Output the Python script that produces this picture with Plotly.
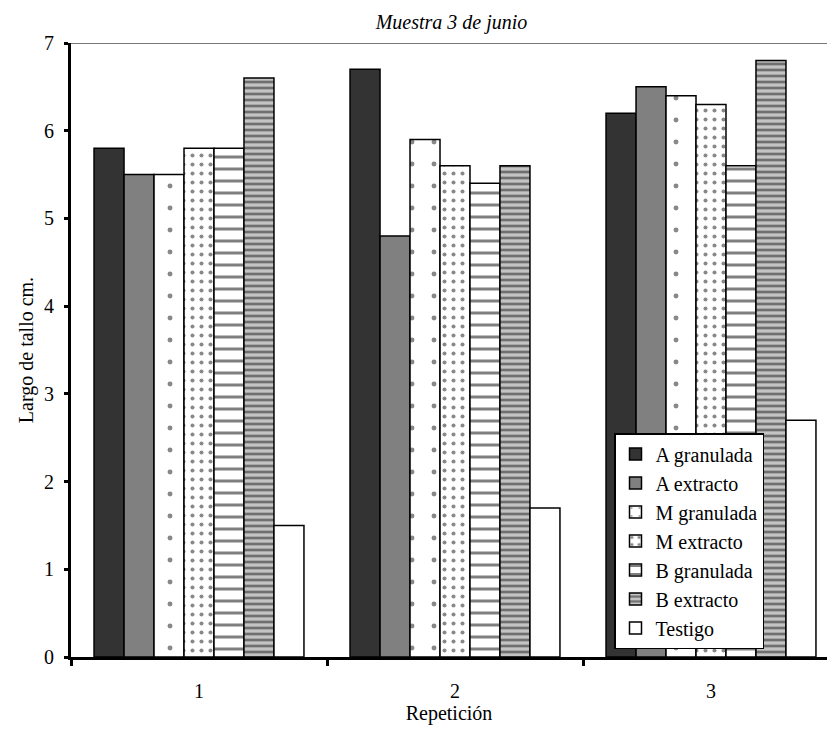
import plotly.graph_objects as go

# Stem length per treatment for each repetition
repeticiones = ["1", "2", "3"]
tratamientos = ["A granulada", "A extracto", "M granulada", "M extracto",
                "B granulada", "B extracto", "Testigo"]
a_granulada = [5.8, 6.7, 6.2]
a_extracto = [5.5, 4.8, 6.5]
m_granulada = [5.5, 5.9, 6.4]
m_extracto = [5.8, 5.6, 6.3]
b_granulada = [5.8, 5.4, 5.6]
b_extracto = [6.6, 5.6, 6.8]
testigo = [1.5, 1.7, 2.7]

valores = [a_granulada, a_extracto, m_granulada, m_extracto,
           b_granulada, b_extracto, testigo]

estilos = [
    dict(color="#333333"),
    dict(color="#808080"),
    dict(color="white", pattern=dict(shape=".", fgcolor="#111111", bgcolor="white",
                                     size=22, solidity=0.04)),
    dict(color="white", pattern=dict(shape=".", fgcolor="#111111", bgcolor="white",
                                     size=9, solidity=0.16)),
    dict(color="white", pattern=dict(shape="-", fgcolor="#000000", bgcolor="white",
                                     size=12, solidity=0.25)),
    dict(color="#888888", pattern=dict(shape="-", fgcolor="#1a1a1a", bgcolor="#c4c4c4",
                                       size=6, solidity=0.45)),
    dict(color="white"),
]

serif = "Liberation Serif"

fig = go.Figure()
for nombre, vals, est in zip(tratamientos, valores, estilos):
    marker = dict(est)
    marker["line"] = dict(color="black", width=1.5)
    fig.add_trace(go.Bar(name=nombre, x=repeticiones, y=vals, marker=marker))

fig.update_layout(
    width=827, height=731,
    margin=dict(l=71, r=0, t=43, b=74),
    paper_bgcolor="white", plot_bgcolor="white",
    barmode="group", bargap=0.18, bargroupgap=0,
    font=dict(family=serif, size=20, color="black"),
    title=dict(text="Muestra 3 de junio", x=(71 + 827) / 2 / 827 + 0.003,
               xanchor="center", y=1 - 22 / 731, yanchor="middle",
               font=dict(family=serif, size=20, style="italic")),
    showlegend=True,
    legend=dict(x=(614 - 71) / 756, xanchor="left", y=(657 - 433) / 614, yanchor="top",
                bgcolor="white", bordercolor="black", borderwidth=1.5,
                font=dict(family=serif, size=20), tracegroupgap=0,
                itemwidth=30),
    xaxis=dict(type="category", range=[-0.5, -0.5 + 756 / 256],
               showline=True, linecolor="black", linewidth=3,
               ticks="outside", tickson="boundaries", ticklen=6, tickwidth=3,
               tickcolor="black", showgrid=False, zeroline=False,
               ticklabelstandoff=14,
               title=dict(text="Repetición", standoff=4,
                          font=dict(family=serif, size=20))),
    yaxis=dict(range=[0, 7], dtick=1, showline=True, linecolor="black", linewidth=3,
               ticks="outside", ticklen=4, tickwidth=3, tickcolor="black",
               showgrid=False, zeroline=False, ticklabelstandoff=6,
               title=dict(text="Largo de tallo cm.", standoff=6,
                          font=dict(family=serif, size=20))),
    shapes=[dict(type="line", xref="paper", yref="y", x0=0, x1=1, y0=7, y1=7,
                 line=dict(color="#777777", width=2))],
)

fig.write_html("out.html")
